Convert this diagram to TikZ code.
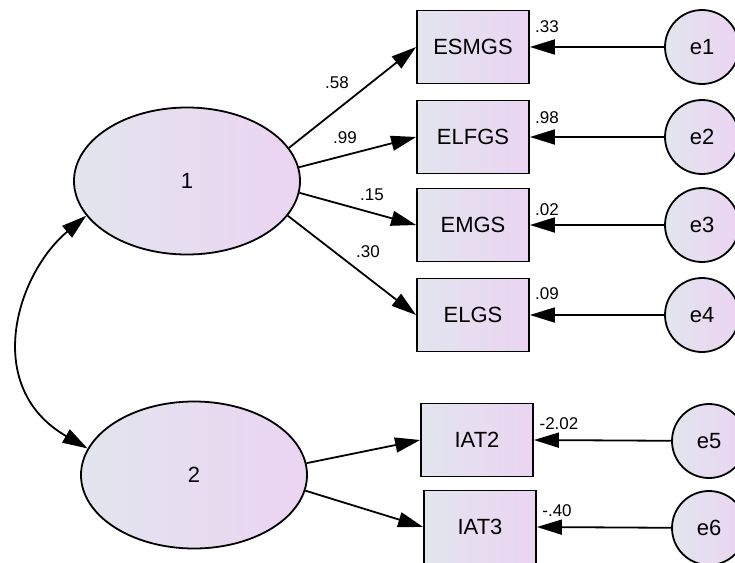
\documentclass[tikz,border=0pt]{standalone}
\usepackage{fontspec}
\setmainfont{Liberation Sans}
\usetikzlibrary{shapes.geometric,arrows.meta}
\definecolor{fillL}{HTML}{E2E5EE}
\definecolor{fillR}{HTML}{EBD4F2}
\begin{document}
\begin{tikzpicture}[x=1pt,y=-1pt,
  every node/.style={font=\fontsize{22}{26}\selectfont},
  latent/.style={ellipse,draw,line width=1.8pt,minimum width=226pt,minimum height=147pt,inner sep=0pt,left color=fillL,right color=fillR},
  obs/.style={rectangle,draw,line width=1.8pt,minimum width=112pt,minimum height=73pt,inner sep=0pt,left color=fillL,right color=fillR},
  err/.style={circle,draw,line width=1.8pt,minimum size=74pt,inner sep=0pt,left color=fillL,right color=fillR},
  arr/.style={line width=1.8pt,-{Triangle[length=25pt,width=15pt]}},
  dblarr/.style={line width=1.8pt,{Triangle[length=25pt,width=15pt]}-{Triangle[length=25pt,width=15pt]}},
  lab/.style={font=\fontsize{17}{19}\selectfont,inner sep=0pt}]
\useasboundingbox (0,0) rectangle (735,562);
\fill[white] (0,0) rectangle (735,562);
% latent variables
\node[latent] (l1) at (187,181) {1};
\node[latent] (l2) at (194,475) {2};
% observed variables
\node[obs] (esmgs) at (473,47) {ESMGS};
\node[obs] (elfgs) at (473,137) {ELFGS};
\node[obs] (emgs) at (473,225) {EMGS};
\node[obs] (elgs) at (473,315) {ELGS};
\node[obs] (iat2) at (477,440) {IAT2};
\node[obs] (iat3) at (480,527) {IAT3};
% errors
\node[err] (e1) at (702,47) {e1};
\node[err] (e2) at (702,137) {e2};
\node[err] (e3) at (702,225) {e3};
\node[err] (e4) at (702,315) {e4};
\node[err] (e5) at (709,441) {e5};
\node[err] (e6) at (709,528) {e6};
% loadings
\draw[arr] (l1.18.6) -- (esmgs.west);
\draw[arr] (l1.7) -- (elfgs.west);
\draw[arr] (l1.-6) -- (emgs.west);
\draw[arr] (l1.-19) -- (elgs.west);
\draw[arr] (l2.6) -- (iat2.west);
\draw[arr] (l2.-8) -- (iat3.west);
% error arrows
\draw[arr] (e1) -- (esmgs.east);
\draw[arr] (e2) -- (elfgs.east);
\draw[arr] (e3) -- (emgs.east);
\draw[arr] (e4) -- (elgs.east);
\draw[arr] (e5) -- (iat2.east);
\draw[arr] (e6) -- (iat3.east);
% covariance
\draw[dblarr] (l1.199) .. controls +(140:92) and +(210:122) .. (l2.166);
% labels
\node[lab] (t58) at (337,83) {.58};
\node[lab] (t99) at (345,138) {.99};
\node[lab] (t15) at (372,195) {.15};
\node[lab] (t30) at (368,252) {.30};
\node[lab] (t33) at (547,27) {.33};
\node[lab] (t98) at (547,118) {.98};
\node[lab] (t02) at (547,210) {.02};
\node[lab] (t09) at (547,294) {.09};
\node[lab] (t202) at (559,424) {-2.02};
\node[lab] (t40) at (557,511) {-.40};
\end{tikzpicture}
\end{document}
